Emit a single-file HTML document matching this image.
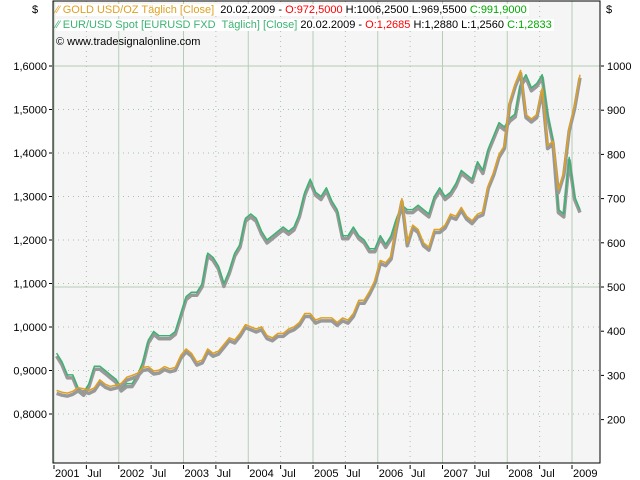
<!DOCTYPE html>
<html><head><meta charset="utf-8"><style>
body{margin:0;background:#fff;}
svg{display:block;font-family:"Liberation Sans",sans-serif;font-size:11px;}
</style></head><body>
<svg id="c" width="640" height="480"></svg>
<script>
const months=["2001-01","2001-02","2001-03","2001-04","2001-05","2001-06","2001-07","2001-08","2001-09","2001-10","2001-11","2001-12",
"2002-01","2002-02","2002-03","2002-04","2002-05","2002-06","2002-07","2002-08","2002-09","2002-10","2002-11","2002-12",
"2003-01","2003-02","2003-03","2003-04","2003-05","2003-06","2003-07","2003-08","2003-09","2003-10","2003-11","2003-12",
"2004-01","2004-02","2004-03","2004-04","2004-05","2004-06","2004-07","2004-08","2004-09","2004-10","2004-11","2004-12",
"2005-01","2005-02","2005-03","2005-04","2005-05","2005-06","2005-07","2005-08","2005-09","2005-10","2005-11","2005-12",
"2006-01","2006-02","2006-03","2006-04","2006-05","2006-06","2006-07","2006-08","2006-09","2006-10","2006-11","2006-12",
"2007-01","2007-02","2007-03","2007-04","2007-05","2007-06","2007-07","2007-08","2007-09","2007-10","2007-11","2007-12",
"2008-01","2008-02","2008-03","2008-04","2008-05","2008-06","2008-07","2008-08","2008-09","2008-10","2008-11","2008-12",
"2009-01","2009-02"];
const eurusd=[0.94,0.92,0.89,0.89,0.86,0.85,0.87,0.91,0.91,0.90,0.89,0.88,
0.86,0.87,0.87,0.89,0.92,0.97,0.99,0.98,0.98,0.98,0.99,1.03,
1.07,1.08,1.08,1.10,1.17,1.16,1.14,1.10,1.13,1.17,1.19,1.25,
1.26,1.25,1.22,1.20,1.21,1.22,1.23,1.22,1.23,1.26,1.31,1.34,
1.31,1.30,1.32,1.29,1.27,1.21,1.21,1.23,1.21,1.20,1.18,1.18,
1.21,1.19,1.21,1.25,1.28,1.27,1.27,1.28,1.27,1.26,1.30,1.32,
1.30,1.31,1.33,1.36,1.35,1.34,1.38,1.36,1.41,1.44,1.47,1.46,
1.48,1.49,1.56,1.58,1.55,1.56,1.58,1.49,1.43,1.27,1.26,1.39,
1.30,1.27];
const gold=[266,262,260,264,272,270,266,272,290,280,275,278,
282,296,300,305,318,320,310,312,320,315,318,345,
360,350,330,335,360,350,355,370,385,380,395,415,
410,405,410,390,385,395,395,405,410,420,440,440,
425,430,430,430,420,430,425,440,470,470,490,515,
560,555,570,640,700,600,640,630,600,590,630,630,
640,665,660,680,660,650,665,670,730,760,800,820,
920,960,990,890,880,890,950,820,830,720,760,860,
910,980];
const leftTicks=[1.6,1.5,1.4,1.3,1.2,1.1,1.0,0.9,0.8];
const rightTicks=[1000,900,800,700,600,500,400,300,200];
const yearLabels=["2001","2002","2003","2004","2005","2006","2007","2008","2009"];
const NS="http://www.w3.org/2000/svg",svg=document.getElementById('c');
function el(t,a,p){const e=document.createElementNS(NS,t);for(const k in a)e.setAttribute(k,a[k]);(p||svg).appendChild(e);return e;}
const X0=53,X1=600,Y0=1,Y1=463;
function xYear(fy){return 54+(fy-2001)*64.75;}
function xMonth(m){const [y,mm]=m.split('-').map(Number);return xYear(y+(mm-1)/12+0.04);}
function yL(v){return 66+(1.6-v)*435;}
function yR(v){return 66+(1000-v)*0.442;}
const bg=el('rect',{x:X0,y:Y0,width:X1-X0,height:Y1-Y0,fill:'#f5f5f5'});

const grid=el('g',{});
leftTicks.forEach(v=>{const y=yL(v);const solid=(v===1.6);
 el('line',{x1:X0,x2:X1,y1:y,y2:y,stroke:solid?'#b5cdb5':'#a8c4a8','stroke-dasharray':solid?'':'1,4'},grid);});
el('line',{x1:X0,x2:X1,y1:yR(500),y2:yR(500),stroke:'#b5cdb5'},grid);
yearLabels.forEach((l,i)=>{const x=xYear(2001+i);el('line',{x1:x,x2:x,y1:Y0,y2:Y1,stroke:'#b5cdb5'},grid);
 if(i<8){const xj=xYear(2001.5+i);el('line',{x1:xj,x2:xj,y1:Y0,y2:Y1,stroke:'#a8c4a8','stroke-dasharray':'1,4'},grid);}});
function pts(arr,f,dy){return arr.map((v,i)=>xMonth(months[i]).toFixed(1)+','+(f(v)+dy).toFixed(1)).join(' ');}
[[eurusd,yL,'#3cb371','eurusd-line'],[gold,yR,'#e0a020','gold-line']].forEach(([a,f,c,n])=>{
 const s=el('polyline',{points:pts(a,f,3),fill:'none',stroke:'#999','stroke-width':3.5,'stroke-linejoin':'round'});
 
 const l=el('polyline',{points:pts(a,f,0),fill:'none',stroke:c,'stroke-width':1.5,'stroke-linejoin':'round'});
 });
const fr=el('rect',{x:X0,y:Y0,width:X1-X0,height:Y1-Y0,fill:'none',stroke:'#000'});

const la=el('g',{});
leftTicks.forEach(v=>{const y=yL(v);el('line',{x1:X0-4,x2:X0-1,y1:y,y2:y,stroke:'#000'},la);
 const t=el('text',{x:X0-6,y:y+4,'text-anchor':'end'},la);t.textContent=v.toFixed(4).replace('.',',');});
const ra=el('g',{});
rightTicks.forEach(v=>{const y=yR(v);el('line',{x1:X1+1,x2:X1+4,y1:y,y2:y,stroke:'#000'},ra);
 const t=el('text',{x:X1+7,y:y+4},ra);t.textContent=v;});
const xa=el('g',{});
yearLabels.forEach((l,i)=>{const x=xYear(2001+i);el('line',{x1:x,x2:x,y1:Y1+2,y2:Y1+6,stroke:'#000'},xa);
 const t=el('text',{x:x+1,y:Y1+14},xa);t.textContent=l;
 if(i<8){const xj=xYear(2001.5+i);el('line',{x1:xj,x2:xj,y1:Y1+2,y2:Y1+6,stroke:'#000'},xa);
 const tj=el('text',{x:xj+1,y:Y1+14},xa);tj.textContent='Jul';}});
</script>
<div style="position:absolute;left:0;top:0;width:640px;height:60px;font-family:'Liberation Sans',sans-serif;font-size:11px;pointer-events:none">
<div style="position:absolute;left:32px;top:4px">$</div>
<div style="position:absolute;left:606px;top:4px">$</div>
<div style="position:absolute;left:56px;top:4px;background:#fff;padding-right:2px;white-space:nowrap"><span style="color:#e0a020">⁄⁄ GOLD USD/OZ Täglich [Close]</span>&nbsp; 20.02.2009 - <span style="color:#f00">O:972,5000</span> H:1006,2500 L:969,5500 <span style="color:#0a0">C:991,9000</span></div>
<div style="position:absolute;left:56px;top:19px;background:#fff;padding-right:2px;white-space:nowrap"><span style="color:#3cb371">⁄⁄ EUR/USD Spot [EURUSD FXD&nbsp; Täglich] [Close]</span> 20.02.2009 - <span style="color:#f00">O:1,2685</span> H:1,2880 L:1,2560 <span style="color:#0a0">C:1,2833</span></div>
<div style="position:absolute;left:56px;top:36px;white-space:nowrap">© www.tradesignalonline.com</div>
</div>
</body></html>
